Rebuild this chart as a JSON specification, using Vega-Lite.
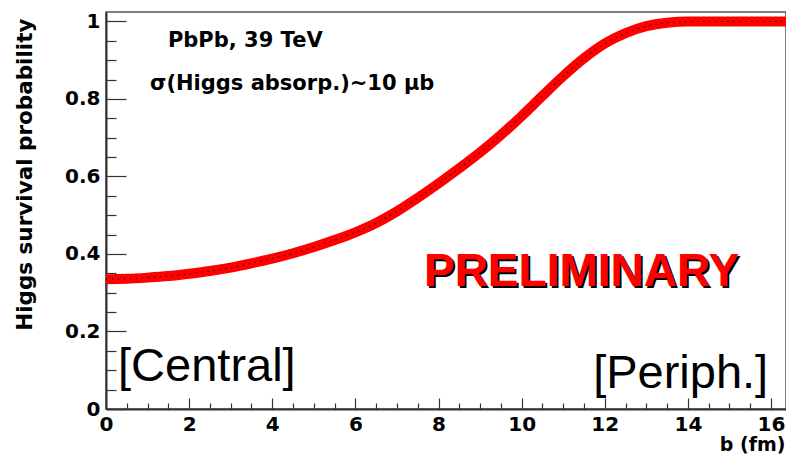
{
  "$schema": "https://vega.github.io/schema/vega-lite/v6.json",
  "width": 680,
  "height": 397,
  "autosize": {"type": "none"},
  "padding": {"left": 106, "top": 12, "right": 0, "bottom": 48},
  "background": "white",
  "config": {
    "view": {"stroke": "#555", "strokeWidth": 1.5},
    "axis": {"grid": false}
  },
  "datasets": {
    "curve": [
      {"b": 0, "p": 0.335}, {"b": 0.5, "p": 0.336}, {"b": 1, "p": 0.339}, {"b": 1.5, "p": 0.343},
      {"b": 2, "p": 0.349}, {"b": 2.5, "p": 0.356}, {"b": 3, "p": 0.365}, {"b": 3.5, "p": 0.376},
      {"b": 4, "p": 0.388}, {"b": 4.5, "p": 0.402}, {"b": 5, "p": 0.418}, {"b": 5.5, "p": 0.436},
      {"b": 6, "p": 0.456}, {"b": 6.5, "p": 0.48}, {"b": 7, "p": 0.51}, {"b": 7.5, "p": 0.545},
      {"b": 8, "p": 0.582}, {"b": 8.5, "p": 0.621}, {"b": 9, "p": 0.662}, {"b": 9.5, "p": 0.707},
      {"b": 10, "p": 0.756}, {"b": 10.5, "p": 0.808}, {"b": 11, "p": 0.859}, {"b": 11.5, "p": 0.905},
      {"b": 12, "p": 0.943}, {"b": 12.5, "p": 0.97}, {"b": 13, "p": 0.988}, {"b": 13.5, "p": 0.997},
      {"b": 14, "p": 1.0}, {"b": 15, "p": 1.0}, {"b": 16.36, "p": 1.0}
    ]
  },
  "resolve": {"axis": {"x": "independent", "y": "independent"}},
  "layer": [
    {
      "data": {"name": "curve"},
      "mark": {"type": "line", "color": "#ff0000", "strokeWidth": 10, "interpolate": "monotone", "clip": true},
      "encoding": {
        "x": {
          "field": "b", "type": "quantitative",
          "scale": {"domain": [0, 16.36], "nice": false, "zero": false},
          "axis": {
            "orient": "bottom", "values": [0, 2, 4, 6, 8, 10, 12, 14, 16], "format": "d",
            "ticks": false, "domain": true, "domainColor": "#333", "domainWidth": 2,
            "labelFont": "DejaVu Sans", "labelFontWeight": "bold", "labelFontSize": 20,
            "labelColor": "#000", "labelPadding": 5, "labelBaseline": "top", "labelFlush": false,
            "title": "b (fm)", "titleFont": "DejaVu Sans", "titleFontWeight": "bold", "titleFontSize": 19,
            "titleColor": "#000", "titleAnchor": "end", "titleAlign": "right", "titleBaseline": "alphabetic",
            "titleX": 679, "titleY": 41
          }
        },
        "y": {
          "field": "p", "type": "quantitative",
          "scale": {"domain": [0, 1.0245], "nice": false, "zero": false},
          "axis": {
            "orient": "left", "values": [0, 0.2, 0.4, 0.6, 0.8, 1], "format": ".1~f",
            "ticks": false, "domain": true, "domainColor": "#333", "domainWidth": 2,
            "labelFont": "DejaVu Sans", "labelFontWeight": "bold", "labelFontSize": 20,
            "labelColor": "#000", "labelPadding": 6, "labelFlush": false,
            "title": "Higgs survival probability", "titleFont": "DejaVu Sans", "titleFontWeight": "bold",
            "titleFontSize": 21.5, "titleColor": "#000", "titleAngle": -90, "titleAnchor": "end",
            "titleAlign": "right", "titleBaseline": "alphabetic", "titleX": -75, "titleY": 6
          }
        }
      }
    },
    {
      "data": {"name": "curve"},
      "mark": {"type": "line", "color": "#000", "strokeWidth": 1.2, "strokeDash": [1, 5], "interpolate": "monotone", "clip": true},
      "encoding": {
        "x": {
          "field": "b", "type": "quantitative",
          "axis": {
            "orient": "bottom", "values": [0, 2, 4, 6, 8, 10, 12, 14, 16], "labels": false, "domain": false,
            "ticks": true, "tickSize": -11, "tickColor": "#333", "tickWidth": 1.2, "title": null
          }
        },
        "y": {
          "field": "p", "type": "quantitative",
          "axis": {
            "orient": "left", "values": [0, 0.2, 0.4, 0.6, 0.8, 1], "labels": false, "domain": false,
            "ticks": true, "tickSize": -20, "tickColor": "#333", "tickWidth": 1.2, "title": null
          }
        }
      }
    },
    {
      "data": {"values": [{"b": 7.65, "p": 0.317, "t": "PRELIMINARY"}]},
      "mark": {"type": "text", "align": "left", "baseline": "alphabetic", "font": "Liberation Sans", "fontWeight": "bold", "fontSize": 46, "color": "#000", "dx": 2, "dy": 2},
      "encoding": {
        "x": {
          "field": "b", "type": "quantitative",
          "axis": {
            "orient": "bottom", "values": [0.5, 1, 1.5, 2.5, 3, 3.5, 4.5, 5, 5.5, 6.5, 7, 7.5, 8.5, 9, 9.5, 10.5, 11, 11.5, 12.5, 13, 13.5, 14.5, 15, 15.5, 16.5],
            "labels": false, "domain": false, "ticks": true, "tickSize": -6, "tickColor": "#333", "tickWidth": 1.2, "title": null
          }
        },
        "y": {
          "field": "p", "type": "quantitative",
          "axis": {
            "orient": "left", "values": [0.05, 0.1, 0.15, 0.25, 0.3, 0.35, 0.45, 0.5, 0.55, 0.65, 0.7, 0.75, 0.85, 0.9, 0.95],
            "labels": false, "domain": false, "ticks": true, "tickSize": -10, "tickColor": "#333", "tickWidth": 1.2, "title": null
          }
        },
        "text": {"field": "t"}
      }
    },
    {
      "data": {"values": [{"b": 7.65, "p": 0.317, "t": "PRELIMINARY"}]},
      "mark": {"type": "text", "align": "left", "baseline": "alphabetic", "font": "Liberation Sans", "fontWeight": "bold", "fontSize": 46, "color": "#ff0000"},
      "encoding": {
        "x": {"field": "b", "type": "quantitative", "axis": null},
        "y": {"field": "p", "type": "quantitative", "axis": null},
        "text": {"field": "t"}
      }
    },
    {
      "data": {"values": [
        {"b": 1.49, "p": 0.934, "t": "PbPb, 39 TeV"},
        {"b": 1.06, "p": 0.823, "t": "σ(Higgs absorp.)~10  μb"}
      ]},
      "mark": {"type": "text", "align": "left", "baseline": "alphabetic", "font": "DejaVu Sans", "fontWeight": "bold", "fontSize": 21, "color": "#000"},
      "encoding": {
        "x": {"field": "b", "type": "quantitative", "axis": null},
        "y": {"field": "p", "type": "quantitative", "axis": null},
        "text": {"field": "t"}
      }
    },
    {
      "data": {"values": [
        {"b": 0.29, "p": 0.072, "t": "[Central]"},
        {"b": 11.72, "p": 0.054, "t": "[Periph.]"}
      ]},
      "mark": {"type": "text", "align": "left", "baseline": "alphabetic", "font": "Liberation Sans", "fontWeight": "normal", "fontSize": 47, "color": "#000"},
      "encoding": {
        "x": {"field": "b", "type": "quantitative", "axis": null},
        "y": {"field": "p", "type": "quantitative", "axis": null},
        "text": {"field": "t"}
      }
    }
  ]
}
